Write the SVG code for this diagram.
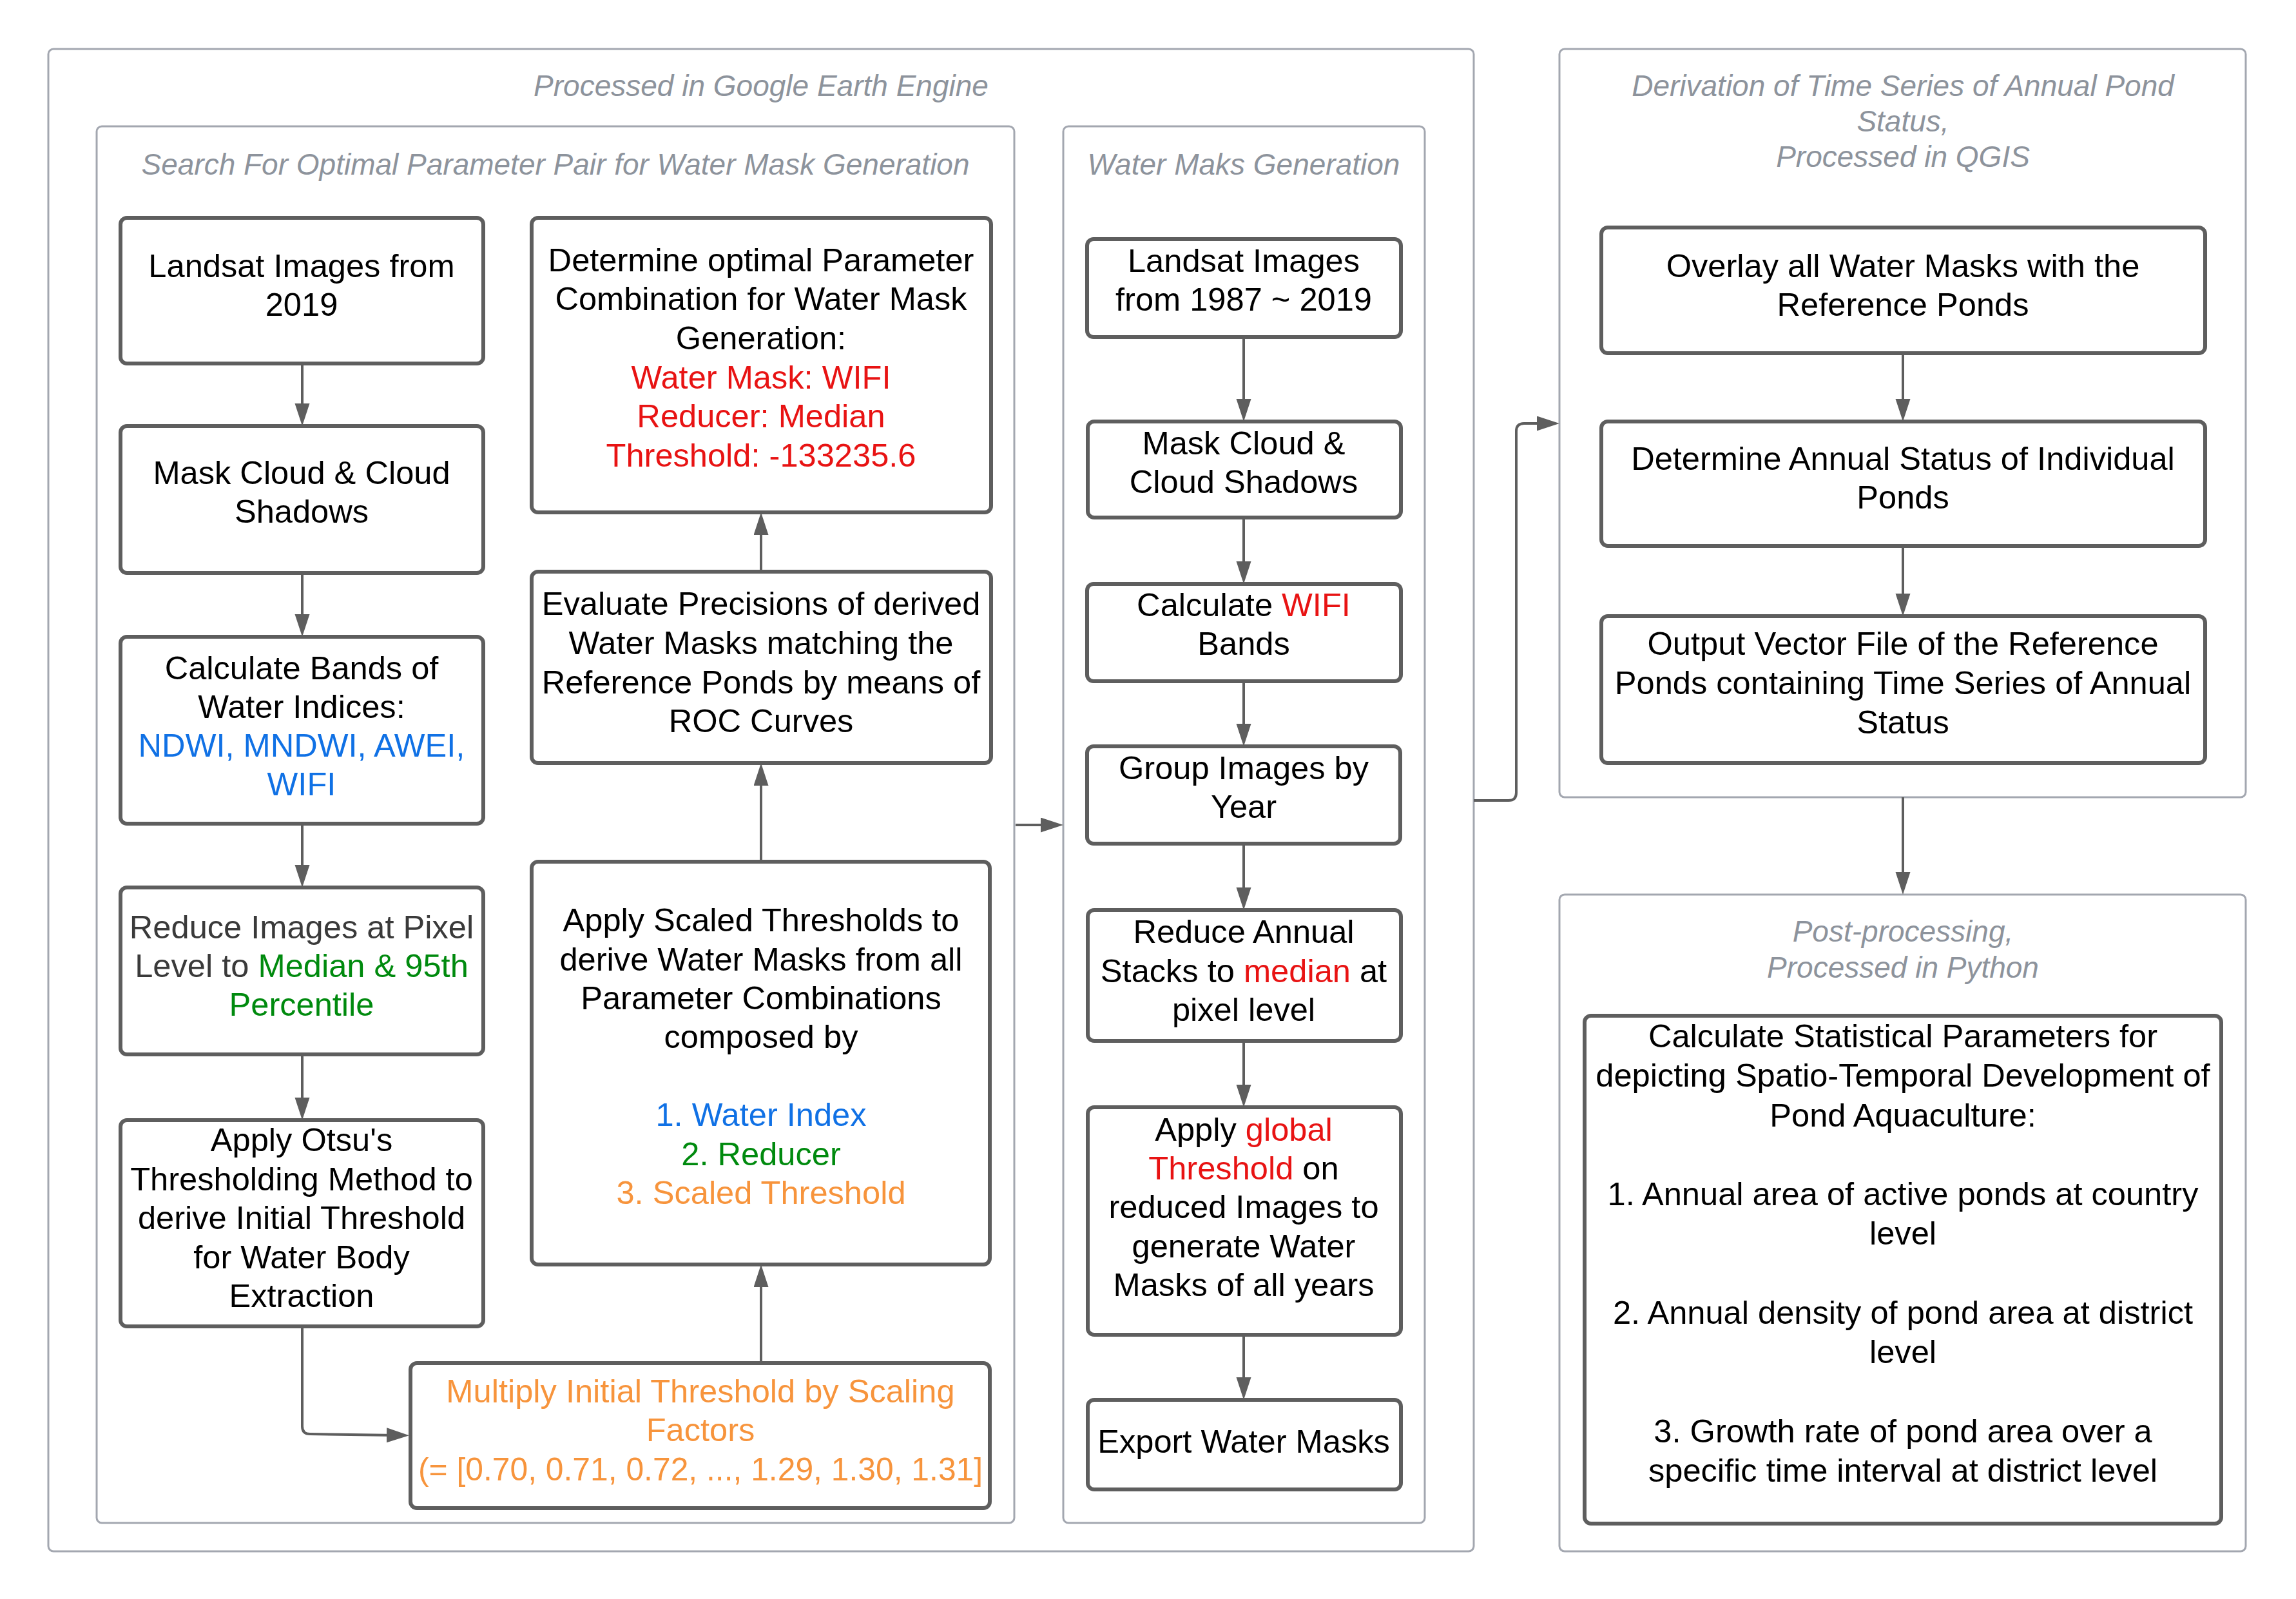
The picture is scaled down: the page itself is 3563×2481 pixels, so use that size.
<svg xmlns="http://www.w3.org/2000/svg" width="3563" height="2481" viewBox="0 0 3563 2481">
<style>
.bg{fill:#ffffff}
.cont{fill:#ffffff;stroke:#a3a7b0;stroke-width:3}
.box{fill:#ffffff;stroke:#5e5e5e;stroke-width:6}
.ttl{font-family:"Liberation Sans",Arial,sans-serif;font-size:46px;font-style:italic;fill:#8d939c;text-anchor:middle}
.t{font-family:"Liberation Sans",Arial,sans-serif;font-size:50.6px;fill:#000000;text-anchor:middle}
.g3{fill:#3a3a3a}
.red{fill:#e81313}
.blue{fill:#1071e5}
.green{fill:#008a0e}
.orange{fill:#f7943c}
.con{fill:none;stroke:#5e5e5e;stroke-width:4;marker-end:url(#ah)}
</style>
<defs>
<marker id="ah" markerUnits="userSpaceOnUse" markerWidth="36" markerHeight="24" refX="15" refY="11.5" orient="auto" viewBox="0 0 36 24">
<path d="M0,0 L35,11.5 L0,23 Z" fill="#5e5e5e"/>
</marker>
</defs>
<rect class="bg" x="0" y="0" width="3563" height="2481"/>

<g id="containers">
<g id="gee">
<rect class="cont" x="75" y="76" width="2212" height="2331" rx="8"/>
<text class="ttl" x="1181" y="149">Processed in Google Earth Engine</text>
</g>
<g id="search">
<rect class="cont" x="150" y="196" width="1424" height="2167" rx="8"/>
<text class="ttl" x="862" y="271">Search For Optimal Parameter Pair for Water Mask Generation</text>
</g>
<g id="watergen">
<rect class="cont" x="1650" y="196" width="561" height="2167" rx="8"/>
<text class="ttl" x="1930" y="271">Water Maks Generation</text>
</g>
<g id="derivation">
<rect class="cont" x="2420" y="76" width="1065" height="1161" rx="8"/>
<text class="ttl" x="2953" y="149">Derivation of Time Series of Annual Pond</text>
<text class="ttl" x="2953" y="204">Status,</text>
<text class="ttl" x="2953" y="259">Processed in QGIS</text>
</g>
<g id="post">
<rect class="cont" x="2420" y="1388" width="1065" height="1019" rx="8"/>
<text class="ttl" x="2953" y="1461">Post-processing,</text>
<text class="ttl" x="2953" y="1517">Processed in Python</text>
</g>
</g>

<g id="connectors">
<path class="con" d="M469,564 L469,641"/>
<path class="con" d="M469,889 L469,968"/>
<path class="con" d="M469,1278 L469,1357"/>
<path class="con" d="M469,1636 L469,1718"/>
<path class="con" d="M469,2058 L469,2213 Q469,2225 481,2225 L615,2227"/>
<path class="con" d="M1181,2115 L1181,1982"/>
<path class="con" d="M1181,1337 L1181,1204"/>
<path class="con" d="M1181,887 L1181,815"/>
<path class="con" d="M1576,1280 L1630,1280"/>
<path class="con" d="M1930,523 L1930,634"/>
<path class="con" d="M1930,803 L1930,886"/>
<path class="con" d="M1930,1057 L1930,1138"/>
<path class="con" d="M1930,1309 L1930,1392"/>
<path class="con" d="M1930,1615 L1930,1698"/>
<path class="con" d="M1930,2071 L1930,2152"/>
<path class="con" d="M2287,1242 L2341,1242 Q2353,1242 2353,1230 L2353,669 Q2353,657 2365,657 L2400,657"/>
<path class="con" d="M2953,548 L2953,634"/>
<path class="con" d="M2953,847 L2953,936"/>
<path class="con" d="M2953,1237 L2953,1368"/>
</g>

<g id="n1">
<rect class="box" x="187" y="338" width="563" height="226" rx="10"/>
<text class="t" x="468" y="430">Landsat Images from</text>
<text class="t" x="468" y="490">2019</text>
</g>
<g id="n2">
<rect class="box" x="187" y="661" width="563" height="228" rx="10"/>
<text class="t" x="468" y="751">Mask Cloud &amp; Cloud</text>
<text class="t" x="468" y="811">Shadows</text>
</g>
<g id="n3">
<rect class="box" x="187" y="988" width="563" height="290" rx="10"/>
<text class="t" x="468" y="1054">Calculate Bands of</text>
<text class="t" x="468" y="1114">Water Indices:</text>
<text class="t blue" x="468" y="1174">NDWI, MNDWI, AWEI,</text>
<text class="t blue" x="468" y="1234">WIFI</text>
</g>
<g id="n4">
<rect class="box" x="187" y="1377" width="563" height="259" rx="10"/>
<text class="t g3" x="468" y="1456">Reduce Images at Pixel</text>
<text class="t" x="468" y="1516"><tspan class="g3">Level to </tspan><tspan class="green">Median &amp; 95th</tspan></text>
<text class="t green" x="468" y="1576">Percentile</text>
</g>
<g id="n5">
<rect class="box" x="187" y="1738" width="563" height="320" rx="10"/>
<text class="t" x="468" y="1786">Apply Otsu's</text>
<text class="t" x="468" y="1847">Thresholding Method to</text>
<text class="t" x="468" y="1907">derive Initial Threshold</text>
<text class="t" x="468" y="1968">for Water Body</text>
<text class="t" x="468" y="2028">Extraction</text>
</g>
<g id="n6">
<rect class="box" x="825" y="338" width="713" height="457" rx="10"/>
<text class="t" x="1181" y="421">Determine optimal Parameter</text>
<text class="t" x="1181" y="481">Combination for Water Mask</text>
<text class="t" x="1181" y="542">Generation:</text>
<text class="t red" x="1181" y="603">Water Mask: WIFI</text>
<text class="t red" x="1181" y="663">Reducer: Median</text>
<text class="t red" x="1181" y="724">Threshold: -133235.6</text>
</g>
<g id="n7">
<rect class="box" x="825" y="887" width="713" height="297" rx="10"/>
<text class="t" x="1181" y="954">Evaluate Precisions of derived</text>
<text class="t" x="1181" y="1015">Water Masks matching the</text>
<text class="t" x="1181" y="1076">Reference Ponds by means of</text>
<text class="t" x="1181" y="1136">ROC Curves</text>
</g>
<g id="n8">
<rect class="box" x="825" y="1337" width="711" height="625" rx="10"/>
<text class="t" x="1181" y="1445">Apply Scaled Thresholds to</text>
<text class="t" x="1181" y="1506">derive Water Masks from all</text>
<text class="t" x="1181" y="1566">Parameter Combinations</text>
<text class="t" x="1181" y="1626">composed by</text>
<text class="t blue" x="1181" y="1747">1. Water Index</text>
<text class="t green" x="1181" y="1808">2. Reducer</text>
<text class="t orange" x="1181" y="1868">3. Scaled Threshold</text>
</g>
<g id="n9">
<rect class="box" x="637" y="2115" width="899" height="225" rx="10"/>
<text class="t orange" x="1087" y="2176">Multiply Initial Threshold by Scaling</text>
<text class="t orange" x="1087" y="2236">Factors</text>
<text class="t orange" x="1087" y="2297" style="font-size:49.8px">(= [0.70, 0.71, 0.72, ..., 1.29, 1.30, 1.31]</text>
</g>
<g id="n10">
<rect class="box" x="1687" y="371" width="487" height="152" rx="10"/>
<text class="t" x="1930" y="422">Landsat Images</text>
<text class="t" x="1930" y="482">from 1987 ~ 2019</text>
</g>
<g id="n11">
<rect class="box" x="1688" y="654" width="486" height="149" rx="10"/>
<text class="t" x="1930" y="705">Mask Cloud &amp;</text>
<text class="t" x="1930" y="765">Cloud Shadows</text>
</g>
<g id="n12">
<rect class="box" x="1687" y="906" width="487" height="151" rx="10"/>
<text class="t" x="1930" y="956">Calculate <tspan class="red">WIFI</tspan></text>
<text class="t" x="1930" y="1016">Bands</text>
</g>
<g id="n13">
<rect class="box" x="1687" y="1158" width="486" height="151" rx="10"/>
<text class="t" x="1930" y="1209">Group Images by</text>
<text class="t" x="1930" y="1269">Year</text>
</g>
<g id="n14">
<rect class="box" x="1688" y="1412" width="486" height="203" rx="10"/>
<text class="t" x="1930" y="1463">Reduce Annual</text>
<text class="t" x="1930" y="1524">Stacks to <tspan class="red">median</tspan> at</text>
<text class="t" x="1930" y="1584">pixel level</text>
</g>
<g id="n15">
<rect class="box" x="1688" y="1718" width="486" height="353" rx="10"/>
<text class="t" x="1930" y="1770">Apply <tspan class="red">global</tspan></text>
<text class="t" x="1930" y="1830"><tspan class="red">Threshold</tspan> on</text>
<text class="t" x="1930" y="1890">reduced Images to</text>
<text class="t" x="1930" y="1951">generate Water</text>
<text class="t" x="1930" y="2011">Masks of all years</text>
</g>
<g id="n16">
<rect class="box" x="1688" y="2172" width="486" height="139" rx="10"/>
<text class="t" x="1930" y="2254">Export Water Masks</text>
</g>
<g id="n17">
<rect class="box" x="2485" y="353" width="937" height="195" rx="10"/>
<text class="t" x="2953" y="430">Overlay all Water Masks with the</text>
<text class="t" x="2953" y="490">Reference Ponds</text>
</g>
<g id="n18">
<rect class="box" x="2485" y="654" width="937" height="193" rx="10"/>
<text class="t" x="2953" y="729">Determine Annual Status of Individual</text>
<text class="t" x="2953" y="789">Ponds</text>
</g>
<g id="n19">
<rect class="box" x="2485" y="956" width="937" height="228" rx="10"/>
<text class="t" x="2953" y="1016">Output Vector File of the Reference</text>
<text class="t" x="2953" y="1077">Ponds containing Time Series of Annual</text>
<text class="t" x="2953" y="1138">Status</text>
</g>
<g id="n20">
<rect class="box" x="2459" y="1576" width="988" height="788" rx="10"/>
<text class="t" x="2953" y="1625">Calculate Statistical Parameters for</text>
<text class="t" x="2953" y="1686">depicting Spatio-Temporal Development of</text>
<text class="t" x="2953" y="1748">Pond Aquaculture:</text>
<text class="t" x="2953" y="1870">1. Annual area of active ponds at country</text>
<text class="t" x="2953" y="1931">level</text>
<text class="t" x="2953" y="2054">2. Annual density of pond area at district</text>
<text class="t" x="2953" y="2115">level</text>
<text class="t" x="2953" y="2238">3. Growth rate of pond area over a</text>
<text class="t" x="2953" y="2299">specific time interval at district level</text>
</g>
</svg>
